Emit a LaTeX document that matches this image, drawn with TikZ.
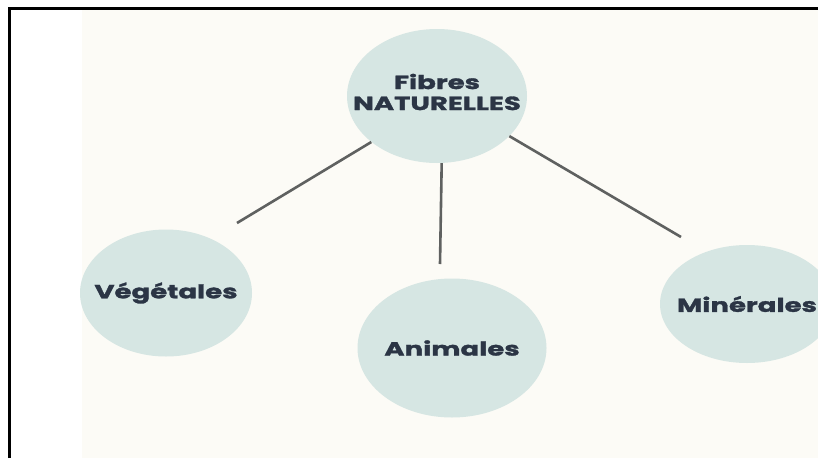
\documentclass[tikz,border=0pt]{standalone}
\usepackage{fontspec}
\newfontfamily\fibrefont{Poppins}[FakeStretch=1.45, BoldFeatures={FakeBold=1.6}]
\usetikzlibrary{shapes.geometric}
\definecolor{fibrefill}{HTML}{D6E6E3}
\definecolor{fibreink}{HTML}{2B3545}
\definecolor{linkgray}{HTML}{5F6160}
\definecolor{paper}{HTML}{FCFBF6}

\tikzset{
  fibre/.style={ellipse, fill=fibrefill, inner sep=0pt},
  fibretext/.style={font=\fibrefont\bfseries\fontsize{19}{21}\selectfont, text=fibreink, align=center, inner sep=0pt},
  link/.style={draw=linkgray, line width=2.6pt}
}

\begin{document}
\begin{tikzpicture}[x=1pt, y=-1pt]
\useasboundingbox (0,0) rectangle (818,458);
\fill[white] (0,0) rectangle (818,458);
\fill[paper] (82,10) rectangle (818,458);
\draw[line width=3pt] (9.5,458) -- (9.5,8.5) -- (818,8.5);

% circles
\node[fibre, minimum width=180, minimum height=134] (nat) at (437,96) {};
\node[fibre, minimum width=172, minimum height=127] (veg) at (166,293) {};
\node[fibre, minimum width=189, minimum height=139] (ani) at (452,348) {};
\node[fibre, minimum width=174, minimum height=118] (min) at (747,304) {};

% labels
\node[fibretext] (nattxt) at ([yshift=4pt]nat.center) {Fibres\\NATURELLES};
\node[fibretext] (vegtxt) at (veg) {Végétales};
\node[fibretext] (anitxt) at (ani) {Animales};
\node[fibretext] (mintxt) at (min) {Minérales};

% links
\coordinate (vegend) at (237,223);
\coordinate (aniend) at (440,264);
\coordinate (minend) at (681,237);
\draw[link] (nat.215) -- (vegend);
\draw[link] (nat.274) -- (aniend);
\draw[link] (nat.331) -- (minend);
\end{tikzpicture}
\end{document}
